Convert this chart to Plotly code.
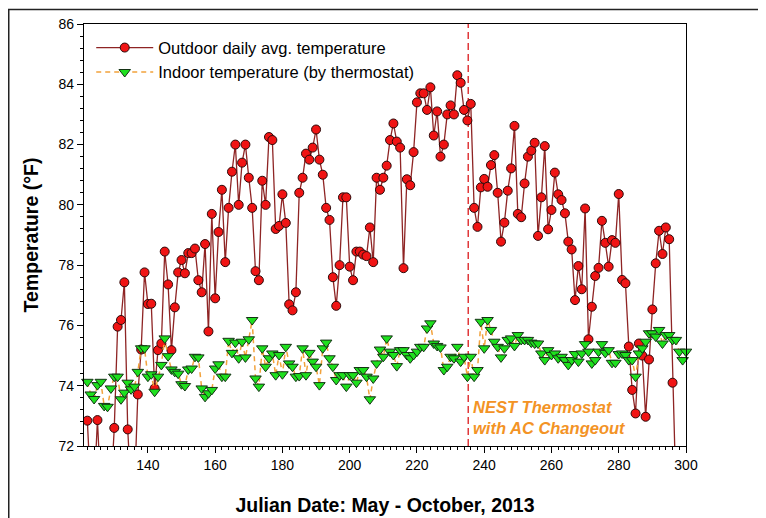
import plotly.graph_objects as go

# ---------------- data ----------------
outdoor_days = list(range(122, 298))
outdoor_temp = [
    72.84, 70.5, 70.5, 72.86, 70.5, 70.5, 70.5, 70.5, 72.6, 75.96,   # 122-131
    76.18, 77.43, 72.55, 70.5, 70.5, 73.71, 75.2, 77.76, 76.71, 76.72,  # 132-141
    73.91, 75.18, 75.4, 78.45, 77.36, 75.18, 76.6, 77.76, 78.17, 77.73,  # 142-151
    78.4, 78.4, 78.55, 77.5, 77.1, 78.7, 75.8, 79.7, 76.9, 79.1,        # 152-161
    80.5, 78.1, 79.9, 81.1, 82.0, 80.0, 81.4, 82.0, 80.9, 79.9,         # 162-171
    77.8, 77.5, 80.8, 80.0, 82.25, 82.15, 79.2, 79.3, 80.35, 79.4,      # 172-181
    76.7, 76.5, 77.1, 80.4, 80.9, 81.7, 81.5, 81.9, 82.5, 81.5,         # 182-191
    81.0, 79.9, 79.5, 77.6, 76.65, 78.0, 80.25, 80.25, 77.95, 77.5,     # 192-201
    78.45, 78.45, 78.35, 78.3, 79.25, 78.1, 80.9, 80.5, 80.9, 81.3,     # 202-211
    82.15, 82.7, 82.1, 81.9, 77.9, 80.85, 80.65, 81.75, 83.4, 83.7,     # 212-221
    83.7, 83.15, 83.9, 82.3, 83.1, 81.6, 82.0, 83.0, 83.3, 83.0,        # 222-231
    84.3, 84.05, 83.15, 82.8, 83.35, 79.9, 79.27, 80.58, 80.86, 80.6,   # 232-241
    81.32, 81.65, 80.4, 78.78, 79.41, 80.47, 81.21, 82.62, 79.7, 79.59, # 242-251
    80.71, 81.6, 81.8, 82.06, 78.97, 80.25, 81.95, 79.19, 79.83, 81.07, # 252-261
    80.35, 80.16, 79.72, 78.78, 78.52, 76.84, 77.97, 77.2, 79.88, 75.54,# 262-271
    76.62, 77.64, 77.91, 79.47, 78.74, 77.95, 78.83, 78.74, 80.36, 77.51,# 272-281
    77.4, 75.3, 73.86, 73.08, 75.4, 75.0, 72.97, 74.87, 76.53, 78.06,   # 282-291
    79.14, 78.37, 79.25, 78.86, 74.1, 70.5,                             # 292-297
]

indoor_days = list(range(122, 301))
indoor_temp = [
    74.13, 73.71, 73.56, 74.02, 74.13, 73.33, 73.3, 73.91, 74.3, 74.3,  # 122-131
    73.55, 73.77, 74.1, 73.88, 73.97, 74.46, 75.24, 75.24, 74.3, 74.38, # 132-141
    73.8, 74.3, 74.69, 75.57, 74.98, 74.54, 74.46, 74.4, 74.05, 73.99,  # 142-151
    74.54, 74.57, 74.96, 74.94, 73.91, 73.63, 73.75, 73.86, 74.57, 74.71,# 152-161
    74.3, 74.3, 75.49, 75.09, 75.43, 74.91, 75.46, 74.94, 75.54, 76.18, # 162-171
    74.24, 73.97, 75.24, 74.63, 74.91, 75.07, 74.35, 75.02, 74.38, 75.29,# 172-181
    74.74, 74.63, 74.3, 74.32, 75.24, 74.35, 75.09, 74.8, 74.63, 74.02, # 182-191
    75.24, 75.43, 74.91, 74.63, 74.19, 74.35, 74.35, 73.97, 74.35, 74.35,# 192-201
    74.1, 74.52, 74.52, 74.3, 73.55, 74.24, 74.74, 75.2, 74.96, 75.57,  # 202-211
    75.13, 75.02, 74.65, 75.18, 75.18, 75.02, 74.91, 75.02, 75.13, 75.29,# 212-221
    75.29, 75.9, 76.07, 75.4, 75.32, 75.27, 74.52, 74.63, 74.96, 74.91, # 222-231
    75.29, 74.8, 74.96, 74.3, 74.96, 74.3, 74.52, 76.12, 75.24, 76.18,  # 232-241
    75.85, 75.46, 75.29, 74.94, 75.24, 75.52, 75.57, 75.32, 75.68, 75.52,# 242-251
    75.52, 75.52, 75.43, 75.4, 75.4, 75.07, 74.85, 75.18, 75.02, 75.07, # 252-261
    74.91, 74.96, 74.85, 74.69, 74.85, 75.05, 74.8, 75.07, 75.38, 75.13,# 262-271
    74.74, 74.85, 75.13, 75.38, 75.09, 75.18, 74.76, 74.76, 75.05, 75.07,# 272-281
    75.02, 74.85, 74.85, 74.3, 75.07, 75.24, 75.46, 75.74, 75.74, 75.63,# 282-291
    75.85, 75.4, 75.68, 75.68, 75.52, 75.52, 75.13, 74.85, 75.13,       # 292-300
]

changeout_day = 235.25
x_ticks = [140, 160, 180, 200, 220, 240, 260, 280, 300]
y_ticks = [72, 74, 76, 78, 80, 82, 84, 86]

FONT = "Liberation Sans, Arial, sans-serif"

# page is offset by the 8px body margin; plot area spans page x 84-686, y 24-446
L, T, PW, PH = 76, 16, 602, 422

fig = go.Figure()

fig.add_trace(go.Scatter(
    x=outdoor_days, y=outdoor_temp, mode="lines+markers",
    name="Outdoor daily avg. temperature",
    line=dict(color="#8E2424", width=1.3),
    marker=dict(symbol="circle", size=9, color="#F01414",
                line=dict(color="#2A0A0A", width=1)),
))
fig.add_trace(go.Scatter(
    x=indoor_days, y=indoor_temp, mode="lines+markers",
    name="Indoor temperature (by thermostat)",
    line=dict(color="#F2A23C", width=1.5, dash="5px,4px"),
    marker=dict(symbol="triangle-down", size=10, color="#1EE01E",
                line=dict(color="#143214", width=1)),
    cliponaxis=False,
))

fig.add_shape(type="line", xref="x", yref="y",
              x0=changeout_day, x1=changeout_day, y0=72, y1=86,
              line=dict(color="#E0383A", width=1.5, dash="7px,4px"),
              layer="below")

# outer frame of the picture (page x=8.75, y=9.5 and beyond the right/bottom edges)
fig.add_shape(type="rect", xref="paper", yref="paper",
              x0=(8.75 - 84) / PW, x1=(800 - 84) / PW,
              y0=(446 - 560) / PH, y1=(446 - 9.5) / PH,
              line=dict(color="#222222", width=1.5), layer="below")

fig.add_annotation(
    x=changeout_day + 0.7, y=72.95, xref="x", yref="y",
    text="<b><i>NEST Thermostat<br>with AC Changeout</i></b>",
    showarrow=False, xanchor="left", yanchor="middle", align="left",
    font=dict(family=FONT, size=16.5, color="#F39325"),
)

axis_common = dict(
    showline=True, linecolor="#000000", linewidth=1.2, mirror=True,
    ticks="outside", ticklen=6, tickwidth=1, tickcolor="#000000",
    showgrid=False, zeroline=False, automargin=False,
    tickfont=dict(family=FONT, size=14, color="#000000"),
)

fig.update_xaxes(
    range=[121, 300], tickvals=x_ticks,
    minor=dict(dtick=2, tick0=0, ticklen=3, ticks="outside", tickcolor="#000000"),
    title=dict(text="<b>Julian Date: May - October, 2013</b>", standoff=26,
               font=dict(family=FONT, size=19.5, color="#000000")),
    **axis_common,
)
fig.update_yaxes(
    range=[72, 86], tickvals=y_ticks,
    minor=dict(dtick=0.4, tick0=72, ticklen=3, ticks="outside", tickcolor="#000000"),
    title=dict(text="<b>Temperature (°F)</b>", standoff=14,
               font=dict(family=FONT, size=19.5, color="#000000")),
    **axis_common,
)

fig.update_layout(
    width=758, height=510,
    margin=dict(l=L, r=758 - L - PW, t=T, b=510 - T - PH, autoexpand=False),
    paper_bgcolor="#FFFFFF", plot_bgcolor="#FFFFFF",
    showlegend=True,
    legend=dict(x=0.012, y=0.985, xanchor="left", yanchor="top",
                bgcolor="rgba(0,0,0,0)", borderwidth=0,
                font=dict(family=FONT, size=16.5, color="#000000"),
                itemwidth=57, tracegroupgap=0),
    font=dict(family=FONT),
)

fig.write_html("out.html")
